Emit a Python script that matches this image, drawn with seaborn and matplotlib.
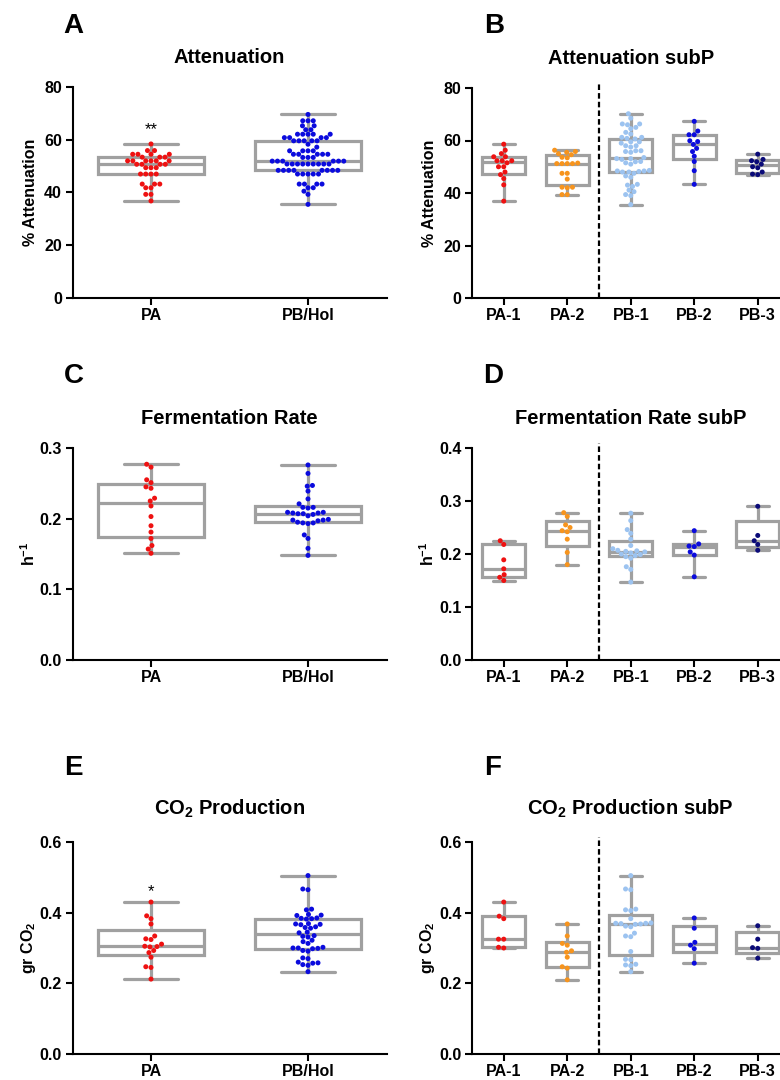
import matplotlib
matplotlib.use("Agg")
import matplotlib.pyplot as plt
import numpy as np
import pandas as pd
import seaborn as sns

# --- data (one list per group) ---

# A: attenuation, PA vs PB/Hol
att_pa = [58.4, 55.9, 55.9, 54.5, 54.5, 54.5, 54.5, 53.4, 53.4, 53.4,
          52.0, 52.0, 52.0, 52.0, 52.0, 52.0, 50.7, 50.7, 50.7, 50.7,
          49.4, 49.4, 49.4, 47.0, 47.0, 47.0, 47.0, 43.2, 43.2, 43.2,
          41.8, 41.8, 39.3, 39.3, 36.8]
att_pb = [69.6, 67.2, 67.2, 67.2, 65.3, 65.3, 63.8, 63.8, 62.1, 62.1,
          62.1, 62.1, 62.1, 60.8, 60.8, 60.8, 60.8, 59.6, 59.6, 59.6,
          59.6, 59.6, 58.3, 57.2, 55.8, 55.8, 55.8, 55.8, 54.5, 54.5,
          54.5, 54.5, 54.5, 53.3, 53.3, 53.3, 51.9, 51.9, 51.9, 51.9,
          51.9, 51.9, 50.8, 50.8, 50.8, 50.8, 50.8, 50.8, 50.8, 50.8,
          50.8, 48.4, 48.4, 48.4, 48.4, 48.4, 48.4, 48.4, 48.4, 47.0,
          47.0, 47.0, 47.0, 47.0, 43.2, 43.2, 43.2, 43.2, 41.8, 41.8,
          40.5, 39.3, 35.5]

# B: attenuation by sub-population
att_pa1 = [58.6, 56.3, 55.0, 53.8, 53.8, 52.3, 52.3, 52.3, 51.5, 50.0,
           50.0, 48.0, 47.0, 45.5, 43.1, 36.9]
att_pa2 = [56.3, 55.8, 55.5, 55.0, 54.6, 53.6, 53.4, 51.4, 51.2, 51.2,
           51.2, 51.2, 47.5, 47.5, 45.3, 42.2, 42.2, 42.0, 39.4, 39.4]
att_pb1 = [70.2, 68.5, 66.3, 66.3, 66.0, 65.0, 64.5, 63.1, 62.5, 61.2,
           61.2, 60.8, 60.6, 59.5, 59.5, 59.0, 58.0, 58.0, 57.5, 56.1,
           56.1, 55.8, 55.5, 53.5, 53.1, 53.1, 52.8, 52.0, 51.9, 51.5,
           51.0, 48.6, 48.4, 48.4, 48.2, 48.0, 48.0, 47.5, 46.5, 46.0,
           43.3, 43.0, 42.5, 41.1, 40.5, 39.4, 39.0, 35.6]
att_pb2 = [67.3, 63.6, 62.2, 62.2, 59.9, 59.6, 58.5, 57.0, 55.8, 54.0,
           52.0, 48.5, 43.3]
att_pb3 = [54.8, 52.8, 52.3, 51.9, 51.0, 50.0, 49.6, 48.0, 47.2, 47.0]

# C: fermentation rate, PA vs PB/Hol
rate_pa = [0.277, 0.273, 0.255, 0.251, 0.245, 0.243, 0.229, 0.225, 0.218,
           0.203, 0.190, 0.181, 0.172, 0.162, 0.157, 0.151]
rate_pb = [0.276, 0.264, 0.247, 0.246, 0.239, 0.228, 0.221, 0.216, 0.216,
           0.215, 0.209, 0.209, 0.208, 0.208, 0.207, 0.207, 0.206, 0.204,
           0.199, 0.198, 0.198, 0.197, 0.195, 0.194, 0.194, 0.193, 0.177,
           0.172, 0.158, 0.148]

# D: fermentation rate by sub-population
rate_pa1 = [0.225, 0.218, 0.189, 0.172, 0.161, 0.156, 0.150]
rate_pa2 = [0.278, 0.271, 0.255, 0.250, 0.244, 0.242, 0.228, 0.203, 0.180]
rate_pb1 = [0.277, 0.263, 0.246, 0.239, 0.228, 0.216, 0.210, 0.207, 0.206,
            0.205, 0.204, 0.202, 0.200, 0.199, 0.197, 0.195, 0.192, 0.176,
            0.171, 0.147]
rate_pb2 = [0.244, 0.219, 0.215, 0.214, 0.204, 0.198, 0.157]
rate_pb3 = [0.290, 0.235, 0.225, 0.218, 0.207]

# E: CO2 production, PA vs PB/Hol
co2_pa = [0.430, 0.391, 0.383, 0.368, 0.334, 0.326, 0.324, 0.311, 0.305,
          0.304, 0.303, 0.293, 0.287, 0.274, 0.247, 0.245, 0.212]
co2_pb = [0.505, 0.467, 0.465, 0.410, 0.408, 0.395, 0.393, 0.392, 0.385,
          0.382, 0.384, 0.383, 0.369, 0.368, 0.367, 0.366, 0.360, 0.358,
          0.356, 0.345, 0.343, 0.335, 0.333, 0.331, 0.322, 0.318, 0.313,
          0.302, 0.300, 0.300, 0.299, 0.298, 0.293, 0.291, 0.272, 0.270,
          0.260, 0.258, 0.257, 0.253, 0.251, 0.233]

# F: CO2 production by sub-population
co2_pa1 = [0.430, 0.390, 0.383, 0.325, 0.325, 0.302, 0.300]
co2_pa2 = [0.368, 0.334, 0.313, 0.308, 0.292, 0.288, 0.274, 0.247, 0.243, 0.210]
co2_pb1 = [0.505, 0.467, 0.465, 0.410, 0.408, 0.406, 0.383, 0.371, 0.370,
           0.370, 0.369, 0.368, 0.367, 0.362, 0.360, 0.342, 0.334, 0.332,
           0.290, 0.268, 0.267, 0.254, 0.252, 0.250, 0.233]
co2_pb2 = [0.385, 0.356, 0.316, 0.308, 0.298, 0.257]
co2_pb3 = [0.363, 0.325, 0.301, 0.299, 0.271]

groups_main = ['PA', 'PB/Hol']
groups_sub = ['PA-1', 'PA-2', 'PB-1', 'PB-2', 'PB-3']

colors = {
    'PA': '#ee1111', 'PB/Hol': '#0b0bdd',
    'PA-1': '#ee1111', 'PA-2': '#f7941d', 'PB-1': '#9cc3f0',
    'PB-2': '#0b0bdd', 'PB-3': '#0a0a78',
}
box_grey = '#a0a0a0'

sns.set_style('ticks')
plt.rcParams['font.family'] = ['Liberation Sans', 'DejaVu Sans']
plt.rcParams['font.weight'] = 'bold'
plt.rcParams['axes.labelweight'] = 'bold'
plt.rcParams['axes.titleweight'] = 'bold'
plt.rcParams['text.color'] = 'black'
plt.rcParams['axes.labelcolor'] = 'black'
plt.rcParams['xtick.color'] = 'black'
plt.rcParams['ytick.color'] = 'black'
plt.rcParams['mathtext.fontset'] = 'custom'
plt.rcParams['mathtext.rm'] = 'Liberation Sans:bold'
plt.rcParams['mathtext.bf'] = 'Liberation Sans:bold'
plt.rcParams['mathtext.default'] = 'bf'

W, H = 780, 1080
fig = plt.figure(figsize=(W / 100, H / 100), dpi=100)


def px_axes(left, top, right, bottom):
    return fig.add_axes([left / W, 1 - bottom / H, (right - left) / W, (bottom - top) / H])


def long_df(names, values):
    rows = []
    for name, vals in zip(names, values):
        for v in vals:
            rows.append((name, v))
    return pd.DataFrame(rows, columns=['group', 'value'])


def box_stats(values):
    # min-to-max whiskers, quartiles the (n+1)p way like the source software
    stats = []
    for vals in values:
        q1, med, q3 = np.percentile(vals, [25, 50, 75], method='weibull')
        stats.append(dict(med=med, q1=q1, q3=q3, whislo=min(vals),
                          whishi=max(vals), fliers=[]))
    return stats


def panel(ax, names, values, ylim, yticks, title, ylabel, split=False, title_pad=17.5):
    df = long_df(names, values)
    lw = 2.3
    line = dict(color=box_grey, linewidth=lw)
    ax.bxp(box_stats(values), positions=range(len(names)), widths=0.68,
           capwidths=0.34, patch_artist=True, showfliers=False, manage_ticks=False,
           boxprops=dict(facecolor='white', edgecolor=box_grey, linewidth=lw),
           medianprops=line, whiskerprops=line, capprops=line)
    sns.swarmplot(data=df, x='group', y='value', order=names, hue='group',
                  hue_order=names, palette=colors, size=3.6, legend=False,
                  zorder=3, ax=ax)
    ax.set_xlim(-0.5, len(names) - 0.5)
    ax.set_ylim(*ylim)
    ax.set_yticks(yticks)
    ax.set_xlabel('')
    ax.set_ylabel(ylabel, fontsize=11.5)
    ax.yaxis.set_label_coords(-0.11, 0.5)
    ax.set_title(title, fontsize=14.5, pad=title_pad)
    ax.tick_params(axis='both', length=5, width=1.5, pad=2.5, labelsize=11.5,
                   color='black', labelcolor='black')
    for s in ['left', 'bottom']:
        ax.spines[s].set_linewidth(1.5)
        ax.spines[s].set_color('black')
    sns.despine(ax=ax)
    if split:
        ax.axvline(1.5, ymin=0, ymax=1.024, color='black', lw=1.6,
                   ls=(0, (2.5, 1.4)), clip_on=False, zorder=4)


axA = px_axes(72.5, 87, 386.5, 298)
panel(axA, groups_main, [att_pa, att_pb], (0, 80), [0, 20, 40, 60, 80],
      'Attenuation', '% Attenuation')
axA.text(0, 62.0, '**', ha='center', va='baseline', fontsize=12,
         fontweight='normal', color='black')

axB = px_axes(472, 88, 789.5, 298)
panel(axB, groups_sub, [att_pa1, att_pa2, att_pb1, att_pb2, att_pb3],
      (0, 80), [0, 20, 40, 60, 80], 'Attenuation subP', '% Attenuation', split=True)

axC = px_axes(72.5, 448, 386.5, 660)
panel(axC, groups_main, [rate_pa, rate_pb], (0, 0.3), [0.0, 0.1, 0.2, 0.3],
      'Fermentation Rate', 'h$^{-1}$')

axD = px_axes(472, 448, 789.5, 660)
panel(axD, groups_sub, [rate_pa1, rate_pa2, rate_pb1, rate_pb2, rate_pb3],
      (0, 0.4), [0.0, 0.1, 0.2, 0.3, 0.4], 'Fermentation Rate subP', 'h$^{-1}$',
      split=True)

axE = px_axes(72.5, 842, 386.5, 1054)
panel(axE, groups_main, [co2_pa, co2_pb], (0, 0.6), [0.0, 0.2, 0.4, 0.6],
      'CO$_2$ Production', 'gr CO$_2$', title_pad=19.5)
axE.text(0, 0.4455, '*', ha='center', va='baseline', fontsize=12,
         fontweight='normal', color='black')

axF = px_axes(472, 842, 789.5, 1054)
panel(axF, groups_sub, [co2_pa1, co2_pa2, co2_pb1, co2_pb2, co2_pb3],
      (0, 0.6), [0.0, 0.2, 0.4, 0.6], 'CO$_2$ Production subP', 'gr CO$_2$',
      split=True, title_pad=19.5)

for ax in [axC, axD, axE, axF]:
    ax.yaxis.set_major_formatter(matplotlib.ticker.FormatStrFormatter('%.1f'))

# panel letters
for letter, x, y in [('A', 63, 33), ('B', 484, 33), ('C', 64, 383),
                     ('D', 483, 383), ('E', 64, 775), ('F', 484, 775)]:
    fig.text(x / W, 1 - y / H, letter, ha='left', va='baseline',
             fontsize=20, fontweight='bold')

fig.savefig('out.png', dpi=100)
